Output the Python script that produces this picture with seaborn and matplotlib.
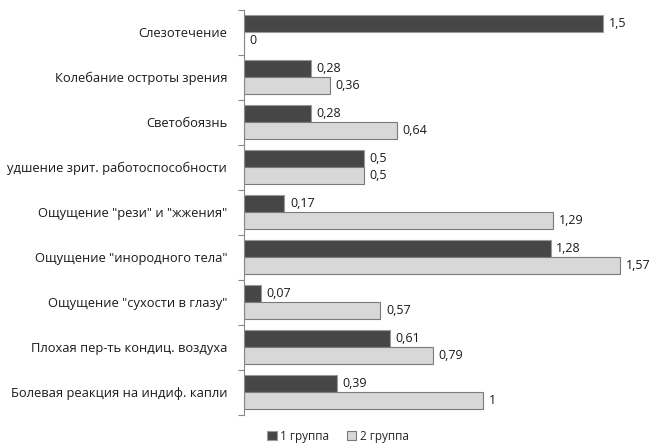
import matplotlib
matplotlib.use("Agg")
import matplotlib.pyplot as plt
import seaborn as sns
import pandas as pd
import numpy as np

categories = [
    "Слезотечение",
    "Колебание остроты зрения",
    "Светобоязнь",
    "удшение зрит. работоспособности",
    "Ощущение \"рези\" и \"жжения\"",
    "Ощущение \"инородного тела\"",
    "Ощущение \"сухости в глазу\"",
    "Плохая пер-ть кондиц. воздуха",
    "Болевая реакция на индиф. капли",
]
group1 = [1.5, 0.28, 0.28, 0.5, 0.17, 1.28, 0.07, 0.61, 0.39]
group2 = [0, 0.36, 0.64, 0.5, 1.29, 1.57, 0.57, 0.79, 1]
series_names = ["1 группа", "2 группа"]

df = pd.DataFrame({
    "cat": categories * 2,
    "val": group1 + group2,
    "grp": [series_names[0]] * len(categories) + [series_names[1]] * len(categories),
})

sns.set_theme(style="white")
plt.rcParams["font.family"] = ["Open Sans", "DejaVu Sans"]

fig = plt.figure(figsize=(6.5, 4.46), dpi=100)
ax = fig.add_axes([0.375, 0.07, 0.59, 0.908])

palette = {series_names[0]: "#464646", series_names[1]: "#d8d8d8"}
sns.barplot(data=df, y="cat", x="val", hue="grp", orient="h", palette=palette,
            width=0.76, ax=ax, legend=False, saturation=1)

edges = ["#9a9a9a", "#7a7a7a"]
for i, cont in enumerate(ax.containers):
    for p in cont:
        p.set_edgecolor(edges[i])
        p.set_linewidth(0.8)
    vals = group1 if i == 0 else group2
    labels = [f"{v:g}".replace(".", ",") for v in vals]
    ax.bar_label(cont, labels=labels, padding=4, fontsize=9, color="#1a1a1a")

ax.set_xlim(0, 1.6)
ax.set_ylim(len(categories) - 0.5, -0.5)
ax.set_xlabel("")
ax.set_ylabel("")
ax.set_xticks([])
ax.tick_params(axis="y", labelsize=9.3, length=0, pad=12, labelcolor="#1a1a1a")
ax.set_yticks(np.arange(-0.5, len(categories) + 0.5, 1), minor=True)
ax.tick_params(axis="y", which="minor", length=4, color="#888888", width=0.8, direction="out", left=True)
for s in ["top", "right", "bottom"]:
    ax.spines[s].set_visible(False)
ax.spines["left"].set_color("#888888")
ax.spines["left"].set_linewidth(0.8)

from matplotlib.patches import Patch
handles = [Patch(facecolor=palette[n], edgecolor=edges[i], linewidth=0.8) for i, n in enumerate(series_names)]
fig.legend(handles, series_names, loc="center", bbox_to_anchor=(0.52, 0.022), ncol=2,
           frameon=False, fontsize=8.5, handlelength=0.8, handleheight=0.8,
           handletextpad=0.3, columnspacing=1.5)

fig.savefig("out.png", dpi=100)
